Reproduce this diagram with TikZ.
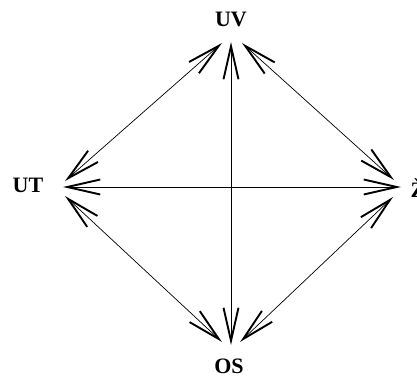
\documentclass[tikz,border=0pt]{standalone}
\usepackage{fontspec}
\setmainfont{Liberation Serif}
\usetikzlibrary{arrows.meta}
\newcommand{\vxfont}{\bfseries\fontsize{22pt}{26pt}\selectfont}
\tikzset{
  vertex/.style={font=\vxfont,inner sep=0pt},
  barb/.tip={Straight Barb[length=33pt,width=15pt,line width=1.9pt]},
  dbl/.style={barb-barb,line width=0.7pt,black},
}
\begin{document}
\begin{tikzpicture}[x=1pt,y=-1pt]
    \useasboundingbox (0,0) rectangle (417,377);
    \node[vertex] (uv) at (231,19) {UV};
    \node[vertex] (ut) at (28,185) {UT};
    \node[vertex] (zz) at (418,188) {Ž};
    \node[vertex] (os) at (229,366) {OS};

    % arrow ends
    \coordinate (uvS) at (231,42);
    \coordinate (uvW) at (222,43);
    \coordinate (uvE) at (242,43);
    \coordinate (utE) at (63,187);
    \coordinate (utN) at (65,181);
    \coordinate (utS) at (65,196);
    \coordinate (zzW) at (401,187);
    \coordinate (zzN) at (394,180);
    \coordinate (zzS) at (393,197);
    \coordinate (osN) at (231,345);
    \coordinate (osW) at (222,342);
    \coordinate (osE) at (240,342);

    \draw[dbl] (uvS) -- (osN);
    \draw[dbl] (utE) -- (zzW);
    \draw[dbl] (uvW) -- (utN);
    \draw[dbl] (uvE) -- (zzN);
    \draw[dbl] (utS) -- (osW);
    \draw[dbl] (zzS) -- (osE);
\end{tikzpicture}
\end{document}
